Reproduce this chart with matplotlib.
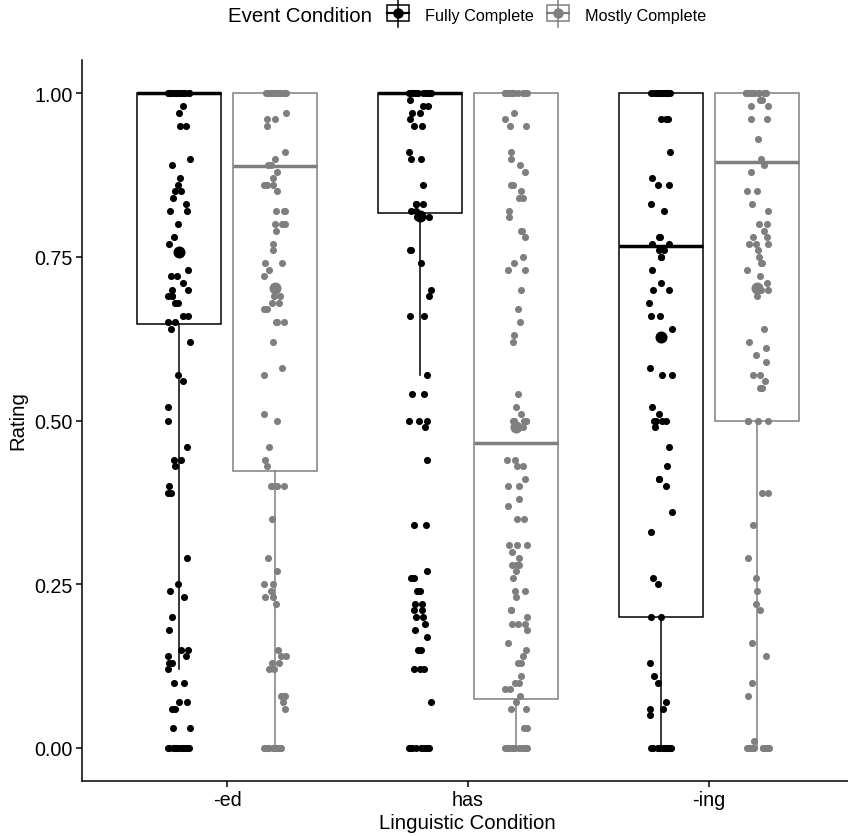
import numpy as np
import matplotlib
matplotlib.use('Agg')
import matplotlib.pyplot as plt
from matplotlib.patches import Rectangle
from matplotlib.lines import Line2D
from matplotlib.transforms import Affine2D

plt.rcParams['font.family'] = ['Liberation Sans', 'DejaVu Sans']

conditions = ['-ed', 'has', '-ing']
events = ['Fully Complete', 'Mostly Complete']
colors = ['#000000', '#7f7f7f']

ed_full = [1.0] * 16 + [
    0.98, 0.97, 0.95, 0.95, 0.90, 0.89, 0.87, 0.86, 0.85, 0.85, 0.84, 0.83, 0.82, 0.82,
    0.80, 0.78, 0.77, 0.73, 0.72, 0.72, 0.71, 0.70, 0.70, 0.69, 0.69, 0.69, 0.68, 0.68,
    0.66, 0.66, 0.65, 0.65, 0.64, 0.62, 0.57, 0.56, 0.52, 0.50, 0.46, 0.44, 0.44, 0.43,
    0.40, 0.39, 0.39, 0.29, 0.25, 0.24, 0.23, 0.20, 0.18, 0.15, 0.15, 0.14, 0.14, 0.13,
    0.13, 0.12, 0.10, 0.10, 0.07, 0.07, 0.06, 0.06, 0.03, 0.03] + [0.0] * 14
ed_mostly = [1.0] * 16 + [
    0.97, 0.96, 0.96, 0.95, 0.91, 0.90, 0.89, 0.89, 0.88, 0.87, 0.86, 0.86, 0.86, 0.85,
    0.82, 0.82, 0.82, 0.80, 0.80, 0.80, 0.79, 0.77, 0.76, 0.74, 0.74, 0.73, 0.72, 0.70,
    0.69, 0.69, 0.68, 0.68, 0.67, 0.67, 0.65, 0.65, 0.65, 0.62, 0.58, 0.57, 0.51, 0.50,
    0.46, 0.44, 0.43, 0.40, 0.40, 0.40, 0.40, 0.35, 0.29, 0.27, 0.25, 0.25, 0.24, 0.23,
    0.23, 0.22, 0.15, 0.14, 0.14, 0.13, 0.13, 0.12, 0.12, 0.08, 0.08, 0.08, 0.07, 0.06] + [0.0] * 14
has_full = [1.0] * 16 + [
    0.99, 0.98, 0.98, 0.97, 0.97, 0.96, 0.95, 0.95, 0.91, 0.90, 0.90, 0.86, 0.83, 0.83,
    0.83, 0.82, 0.82, 0.81, 0.81, 0.76, 0.76, 0.74, 0.70, 0.69, 0.66, 0.66, 0.57, 0.54,
    0.54, 0.50, 0.50, 0.50, 0.49, 0.44, 0.34, 0.34, 0.27, 0.26, 0.26, 0.24, 0.24, 0.22,
    0.22, 0.21, 0.21, 0.20, 0.20, 0.19, 0.18, 0.17, 0.15, 0.15, 0.12, 0.12, 0.12, 0.07] + [0.0] * 10
has_mostly = [1.0] * 16 + [
    0.97, 0.96, 0.95, 0.95, 0.91, 0.90, 0.89, 0.88, 0.86, 0.86, 0.85, 0.84, 0.84, 0.82,
    0.81, 0.79, 0.79, 0.78, 0.75, 0.74, 0.73, 0.73, 0.70, 0.67, 0.65, 0.63, 0.62, 0.54,
    0.52, 0.51, 0.50, 0.50, 0.50, 0.50, 0.50, 0.50, 0.49, 0.44, 0.44, 0.43, 0.43, 0.41,
    0.40, 0.40, 0.38, 0.37, 0.35, 0.35, 0.31, 0.31, 0.31, 0.30, 0.29, 0.28, 0.28, 0.28,
    0.27, 0.26, 0.24, 0.24, 0.23, 0.21, 0.21, 0.20, 0.19, 0.19, 0.19, 0.18, 0.16, 0.15,
    0.14, 0.13, 0.13, 0.11, 0.10, 0.10, 0.09, 0.09, 0.08, 0.07, 0.06, 0.06, 0.03, 0.03] + [0.0] * 14
ing_full = [1.0] * 16 + [
    0.96, 0.96, 0.96, 0.91, 0.87, 0.86, 0.86, 0.83, 0.82, 0.78, 0.78, 0.77, 0.77, 0.76,
    0.76, 0.75, 0.75, 0.73, 0.71, 0.70, 0.70, 0.68, 0.66, 0.66, 0.64, 0.58, 0.57, 0.57,
    0.52, 0.51, 0.50, 0.50, 0.50, 0.50, 0.49, 0.46, 0.43, 0.41, 0.41, 0.40, 0.36, 0.33,
    0.26, 0.25, 0.20, 0.20, 0.13, 0.11, 0.10, 0.07, 0.06, 0.06, 0.05] + [0.0] * 14
ing_mostly = [1.0] * 16 + [
    0.99, 0.99, 0.98, 0.98, 0.96, 0.96, 0.93, 0.90, 0.89, 0.88, 0.85, 0.85, 0.83, 0.82,
    0.80, 0.80, 0.79, 0.78, 0.78, 0.77, 0.77, 0.77, 0.76, 0.75, 0.74, 0.74, 0.73, 0.72,
    0.71, 0.70, 0.70, 0.69, 0.64, 0.62, 0.61, 0.60, 0.59, 0.57, 0.57, 0.56, 0.55, 0.55,
    0.50, 0.50, 0.50, 0.50, 0.39, 0.39, 0.34, 0.29, 0.26, 0.24, 0.22, 0.21, 0.16, 0.14,
    0.10, 0.08, 0.01] + [0.0] * 14

# box statistics (order: -ed, has, -ing)
q1_full = [0.648, 0.817, 0.200]
med_full = [1.0, 1.0, 0.766]
q3_full = [1.0, 1.0, 1.0]
whislo_full = [0.12, 0.57, 0.0]
mean_full = [0.758, 0.812, 0.627]

q1_mostly = [0.423, 0.075, 0.500]
med_mostly = [0.889, 0.465, 0.895]
q3_mostly = [1.0, 1.0, 1.0]
whislo_mostly = [0.0, 0.0, 0.0]
mean_mostly = [0.703, 0.490, 0.703]

W, H = 848, 837
fig = plt.figure(figsize=(W / 100, H / 100), dpi=100)
ax = fig.add_axes([82.4 / W, (H - 781.75) / H, 771.2 / W, 720.5 / H])

rng = np.random.default_rng(11)
groups = [
    (colors[0], -0.2, [ed_full, has_full, ing_full], q1_full, med_full, q3_full, whislo_full, mean_full),
    (colors[1], 0.2, [ed_mostly, has_mostly, ing_mostly], q1_mostly, med_mostly, q3_mostly, whislo_mostly, mean_mostly),
]
for color, off, series, q1, med, q3, wlo, means in groups:
    pos = np.arange(1, 4) + off
    stats = [dict(q1=q1[i], med=med[i], q3=q3[i], whislo=wlo[i], whishi=q3[i]) for i in range(3)]
    ax.bxp(stats, positions=pos, widths=0.35, showcaps=False, showfliers=False,
           patch_artist=True, manage_ticks=False, zorder=1,
           boxprops=dict(facecolor='white', edgecolor=color, linewidth=1.1),
           medianprops=dict(color=color, linewidth=2.5, solid_capstyle='butt'),
           whiskerprops=dict(color=color, linewidth=1.1))
    for i, vals in enumerate(series):
        x = pos[i] + rng.uniform(-0.048, 0.048, len(vals))
        ax.scatter(x, vals, s=26, color=color, linewidths=0, zorder=3)
    ax.scatter(pos, means, s=75, color=color, linewidths=0, zorder=4)

ax.set_xlim(0.4, 3.6)
ax.set_ylim(-0.05, 1.05)
ax.set_xticks([1, 2, 3], conditions)
ax.set_yticks([0, 0.25, 0.5, 0.75, 1.0], ['0.00', '0.25', '0.50', '0.75', '1.00'])
ax.tick_params(length=4, width=1.1, labelsize=14.2, pad=3, colors='black')
for s in ['top', 'right']:
    ax.spines[s].set_visible(False)
for s in ['left', 'bottom']:
    ax.spines[s].set_linewidth(1.1)

fig.text(17.5 / W, 1 - 421 / H, 'Rating', rotation=90, ha='center', va='center', fontsize=14.7)
fig.text(467.5 / W, 1 - 823.5 / H, 'Linguistic Condition', ha='center', va='center', fontsize=14.7)

# legend on top, drawn in pixel coordinates
px = Affine2D().scale(1 / W, -1 / H).translate(0, 1) + fig.transFigure
fig.text(371.7 / W, 1 - 16.5 / H, 'Event Condition', ha='right', va='center', fontsize=14.7)
for color, kx, tx, label in [(colors[0], 387.3, 425, events[0]), (colors[1], 547, 585, events[1])]:
    cx = kx + 11
    fig.add_artist(Line2D([cx, cx], [0.5, 28], color=color, lw=1.1, transform=px))
    fig.add_artist(Rectangle((kx, 5.5), 22, 16.5, facecolor='white', edgecolor=color, lw=1.1, transform=px))
    fig.add_artist(Line2D([kx, kx + 22], [13.7, 13.7], color=color, lw=1.6, transform=px))
    fig.add_artist(Line2D([cx], [13.7], marker='o', markersize=7.5, color=color, mew=0, transform=px))
    fig.text(tx / W, 1 - 17 / H, label, ha='left', va='center', fontsize=11.7)

fig.savefig('out.png', dpi=100)
